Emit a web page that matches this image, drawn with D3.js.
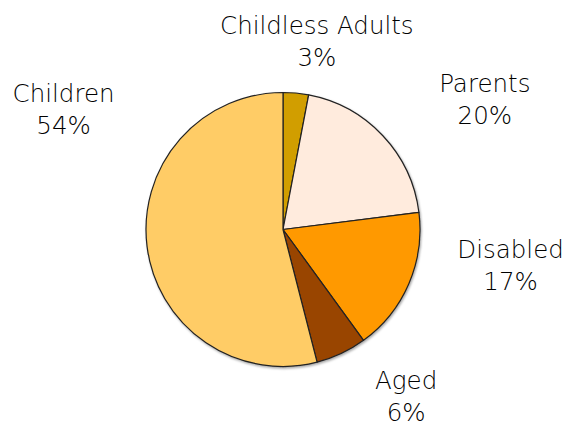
<!DOCTYPE html>
<html>
<head>
<meta charset="utf-8">
<script src="https://cdn.jsdelivr.net/npm/d3@7"></script>
<style>
  body { margin: 0; background: #fff; }
  svg text { font-family: "DejaVu Sans", sans-serif; font-size: 24.5px; font-weight: 200; fill: #000; }
</style>
</head>
<body>
<svg width="569" height="428"></svg>
<script>
// slice data, clockwise from 12 o'clock
var categories = ["Childless Adults", "Parents", "Disabled", "Aged", "Children"];
var shares = [3, 20, 17, 6, 54];
var colors = ["#d19e00", "#ffebdd", "#ff9900", "#994400", "#ffcc66"];

// label nudges from the point at radius 200 on each slice's mid angle
var labelNudge = [[15, 20], [56, 15], [44, -35], [38, -5], [-21, -137]];

var svg = d3.select("svg");
var cx = 283, cy = 229.5, radius = 137;

var defs = svg.append("defs");
defs.append("filter")
    .attr("id", "shadow")
    .attr("x", "-10%").attr("y", "-10%")
    .attr("width", "120%").attr("height", "120%")
  .append("feDropShadow")
    .attr("dx", 1)
    .attr("dy", 1.5)
    .attr("stdDeviation", 1)
    .attr("flood-color", "#000")
    .attr("flood-opacity", 0.35);

var data = categories.map(function (c, i) {
    return { name: c, value: shares[i], color: colors[i] };
});

var pie = d3.pie()
    .sort(null)
    .value(function (d) { return d.value; });

var arc = d3.arc().innerRadius(0).outerRadius(radius);
var labelArc = d3.arc().innerRadius(200).outerRadius(200);

var g = svg.append("g")
    .attr("transform", "translate(" + cx + "," + cy + ")");

var arcs = pie(data);

g.append("g")
    .attr("filter", "url(#shadow)")
    .selectAll("path")
    .data(arcs)
    .join("path")
    .attr("d", arc)
    .attr("fill", function (d) { return d.data.color; })
    .attr("stroke", "#222")
    .attr("stroke-width", 1.2)
    .attr("stroke-linejoin", "round");

var labels = g.selectAll("text.label")
    .data(arcs)
    .join("text")
    .attr("class", "label")
    .attr("text-anchor", "middle")
    .attr("transform", function (d, i) {
        var p = labelArc.centroid(d);
        return "translate(" + (p[0] + labelNudge[i][0]) + "," + (p[1] + labelNudge[i][1]) + ")";
    });

labels.append("tspan")
    .attr("x", 0)
    .attr("y", -16)
    .text(function (d) { return d.data.name; });

labels.append("tspan")
    .attr("x", 0)
    .attr("y", 16)
    .text(function (d) { return d.data.value + "%"; });
</script>
</body>
</html>
